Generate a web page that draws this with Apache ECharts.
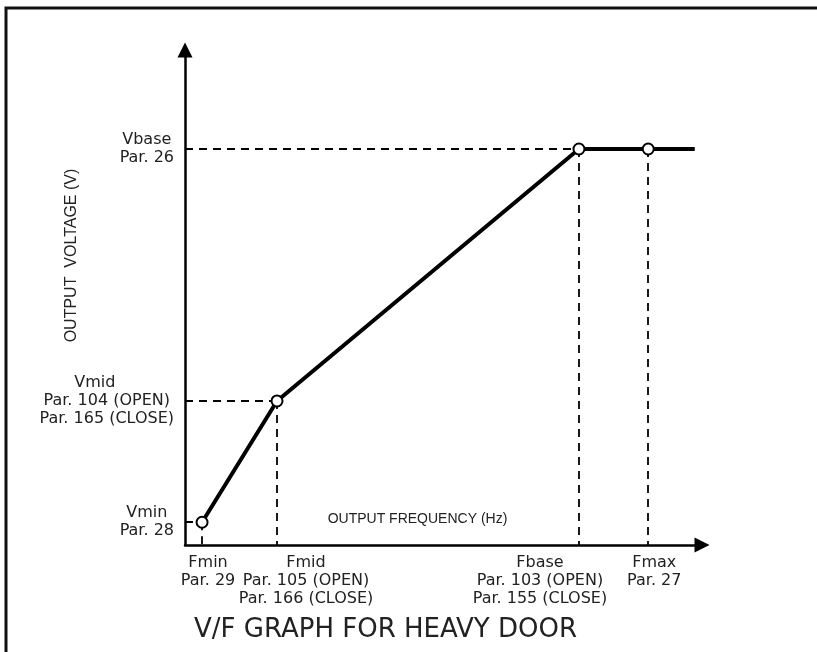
<!DOCTYPE html>
<html>
<head>
<meta charset="utf-8">
<style>
  html, body { margin: 0; padding: 0; background: #fff; }
  #vf_chart { width: 817px; height: 652px; }
</style>
<script src="https://cdn.jsdelivr.net/npm/echarts@6/dist/echarts.min.js"></script>
</head>
<body>
<div id="vf_chart"></div>
<script>
// schematic points (arbitrary units, 0..100 on both axes)
const freqs = [3.3, 17.8, 76.2, 89.6, 98.6];
const volts = [4.6, 29.1, 80, 80, 80];
// which points get a hollow marker
const marked = [true, true, true, true, false];

const xTicks = [3.3, 17.8, 76.2, 89.6];
const xTickNames = ['fmin', 'fmid', 'fbase', 'fmax'];
const xTickLabels = [
  ['Fmin', 'Par. 29'],
  ['Fmid', 'Par. 105 (OPEN)', 'Par. 166 (CLOSE)'],
  ['Fbase', 'Par. 103 (OPEN)', 'Par. 155 (CLOSE)'],
  ['Fmax', 'Par. 27']
];
const yTicks = [4.6, 29.1, 80];
const yTickLabels = [
  ['Vmin', 'Par. 28'],
  ['Vmid', 'Par. 104 (OPEN)', 'Par. 165 (CLOSE)'],
  ['Vbase', 'Par. 26']
];

const labelFont = { fontFamily: 'DejaVu Sans', fontSize: 16, color: '#222', lineHeight: 18, align: 'center' };
const xRich = {
  fmin: Object.assign({}, labelFont, { padding: [0, 0, 0, 12] }),
  fmid: Object.assign({}, labelFont, { padding: [0, 0, 0, 58] }),
  fbase: Object.assign({}, labelFont, { padding: [0, 78, 0, 0] }),
  fmax: Object.assign({}, labelFont, { padding: [0, 0, 0, 12] })
};

function xLabel(val) {
  const i = xTicks.indexOf(val);
  if (i < 0) return '';
  return xTickLabels[i].map(s => '{' + xTickNames[i] + '|' + s + '}').join('\n');
}
function yLabel(val) {
  const i = yTicks.indexOf(val);
  if (i < 0) return '';
  return yTickLabels[i].map((s, k) => (i === 1 && k === 0 ? '{vmid|' : '{c|') + s + '}').join('\n');
}

// dashed guide lines from each marked point to the axes
const guides = [];
for (let i = 0; i < 4; i++) {
  guides.push([{ coord: [freqs[i], volts[i]] }, { coord: [freqs[i], 0] }]);
  if (i < 3) guides.push([{ coord: [0, volts[i]] }, { coord: [freqs[i], volts[i]] }]);
}

// the frequency labels overlap each other, so they are split over two stacked x axes
const xBase = {
  type: 'value',
  position: 'bottom',
  min: 0,
  max: 100,
  splitLine: { show: false },
  axisTick: { show: false }
};

const chart = echarts.init(document.getElementById('vf_chart'));
const option = {
  backgroundColor: '#fff',
  animation: false,
  title: {
    text: 'V/F GRAPH FOR HEAVY DOOR',
    left: 189,
    top: 612,
    textStyle: { fontFamily: 'DejaVu Sans', fontSize: 26, fontWeight: 'normal', color: '#222' }
  },
  graphic: [{
    type: 'polyline',
    shape: { points: [[6, 652], [6, 8], [817, 8]] },
    style: { stroke: '#111', lineWidth: 3, fill: null }
  }],
  grid: { left: 185, top: 50, right: 115, bottom: 107 },
  xAxis: [
    Object.assign({}, xBase, {
      axisLine: { lineStyle: { color: '#000', width: 2.5 }, symbol: ['none', 'triangle'], symbolSize: [15, 15] },
      axisLabel: {
        customValues: [xTicks[0], xTicks[2]],
        margin: 9,
        formatter: xLabel,
        rich: xRich
      },
      name: 'OUTPUT FREQUENCY (Hz)',
      nameLocation: 'middle',
      nameGap: -33,
      nameTextStyle: { fontFamily: 'Liberation Sans', fontSize: 14, color: '#222', padding: [0, 52, 0, 0] }
    }),
    Object.assign({}, xBase, {
      axisLine: { show: false },
      axisLabel: {
        customValues: [xTicks[1], xTicks[3]],
        margin: 9,
        formatter: xLabel,
        rich: xRich
      }
    })
  ],
  yAxis: {
    type: 'value',
    min: 0,
    max: 100,
    splitLine: { show: false },
    axisLine: { show: true, lineStyle: { color: '#000', width: 2.5 }, symbol: ['none', 'triangle'], symbolSize: [15, 15] },
    axisTick: { show: false },
    axisLabel: {
      customValues: yTicks,
      margin: 11,
      formatter: yLabel,
      rich: {
        c: labelFont,
        vmid: Object.assign({}, labelFont, { padding: [0, 24, 0, 0] })
      }
    },
    name: 'OUTPUT  VOLTAGE (V)',
    nameLocation: 'middle',
    nameGap: 105,
    nameMoveOverlap: false,
    nameTextStyle: { fontFamily: 'Liberation Sans', fontSize: 16, color: '#222', padding: [0, 0, 0, 84] }
  },
  series: [{
    type: 'line',
    xAxisIndex: 0,
    data: freqs.map((f, i) => [f, volts[i]]),
    symbol: (v, p) => marked[p.dataIndex] ? 'circle' : 'none',
    symbolSize: 11,
    showSymbol: true,
    z: 5,
    lineStyle: { color: '#000', width: 4 },
    itemStyle: { color: '#fff', borderColor: '#000', borderWidth: 2 },
    markLine: {
      silent: true,
      symbol: ['none', 'none'],
      label: { show: false },
      lineStyle: { color: '#000', width: 1.8, type: [8, 6] },
      data: guides,
      z: 1
    }
  }]
};
chart.setOption(option);
</script>
</body>
</html>
